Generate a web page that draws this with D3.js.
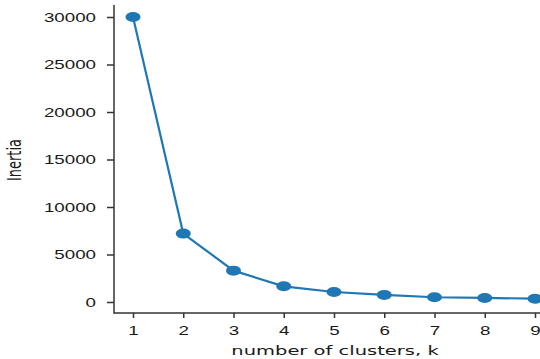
<!DOCTYPE html>
<html>
<head>
<meta charset="utf-8">
<script src="https://cdn.jsdelivr.net/npm/d3@7"></script>
<style>
  html, body { margin: 0; padding: 0; background: #fff; }
  svg { display: block; font-family: "DejaVu Sans", sans-serif; }
</style>
</head>
<body>
<svg id="chart" width="540" height="359"></svg>
<script>
const clusters = [1, 2, 3, 4, 5, 6, 7, 8, 9];
const inertia = [30000, 7200, 3300, 1650, 1050, 750, 500, 430, 350];
const yTicks = [0, 5000, 10000, 15000, 20000, 25000, 30000];

const svg = d3.select("#chart");
const stretch = 1.5;

const x = d3.scaleLinear().domain([1, 9]).range([133, 535]);
const y = d3.scaleLinear().domain([0, 30000]).range([302, 17]);

const axLeft = 114, axBottom = 313, axTop = 5;

// y axis
const gy = svg.append("g")
  .attr("transform", "translate(" + axLeft + ",0)")
  .call(d3.axisLeft(y).tickValues(yTicks).tickSize(7).tickFormat(d3.format("d")));
gy.select(".domain").remove();
gy.selectAll(".tick line").attr("stroke", "#333").attr("stroke-width", 1.5);
gy.selectAll(".tick text")
  .attr("x", null).attr("dy", "0.35em")
  .attr("transform", "translate(-18,0) scale(" + stretch + ",1)")
  .attr("fill", "#1a1a1a").style("font-size", "12.5px").attr("text-anchor", "end");

// x axis
const gx = svg.append("g")
  .attr("transform", "translate(0," + axBottom + ")")
  .call(d3.axisBottom(x).tickValues(clusters).tickSize(5).tickFormat(d3.format("d")));
gx.select(".domain").remove();
gx.selectAll(".tick line").attr("stroke", "#333").attr("stroke-width", 1.5);
gx.selectAll(".tick text")
  .attr("y", null).attr("dy", null)
  .attr("transform", "translate(0,22) scale(" + stretch + ",1)")
  .attr("fill", "#1a1a1a").style("font-size", "12.5px");

// spines
svg.append("line")
  .attr("x1", axLeft).attr("x2", axLeft).attr("y1", axTop).attr("y2", axBottom + 0.75)
  .attr("stroke", "#333").attr("stroke-width", 1.5);
svg.append("line")
  .attr("x1", axLeft).attr("x2", 540).attr("y1", axBottom).attr("y2", axBottom)
  .attr("stroke", "#333").attr("stroke-width", 1.5);

// line + markers
const pts = clusters.map((k, i) => ({k: k, v: inertia[i]}));
const valueline = d3.line()
  .x(function (d) { return x(d.k); })
  .y(function (d) { return y(d.v); });

svg.append("path")
  .datum(pts)
  .attr("fill", "none")
  .attr("stroke", "#1f77b4")
  .attr("stroke-width", 2.2)
  .attr("d", valueline);

svg.selectAll("ellipse.pt")
  .data(pts)
  .enter().append("ellipse")
  .attr("class", "pt")
  .attr("cx", function (d) { return x(d.k); })
  .attr("cy", function (d) { return y(d.v); })
  .attr("rx", 7.5).attr("ry", 5)
  .attr("fill", "#1f77b4");

// axis labels
svg.append("text")
  .attr("transform", "translate(335,355) scale(" + stretch + ",1)")
  .attr("text-anchor", "middle")
  .attr("fill", "#1a1a1a")
  .style("font-size", "13px")
  .text("number of clusters, k");

svg.append("text")
  .attr("transform", "translate(21,160) scale(" + stretch + ",1) rotate(-90)")
  .attr("text-anchor", "middle")
  .attr("fill", "#1a1a1a")
  .style("font-size", "13px")
  .text("Inertia");
</script>
</body>
</html>
